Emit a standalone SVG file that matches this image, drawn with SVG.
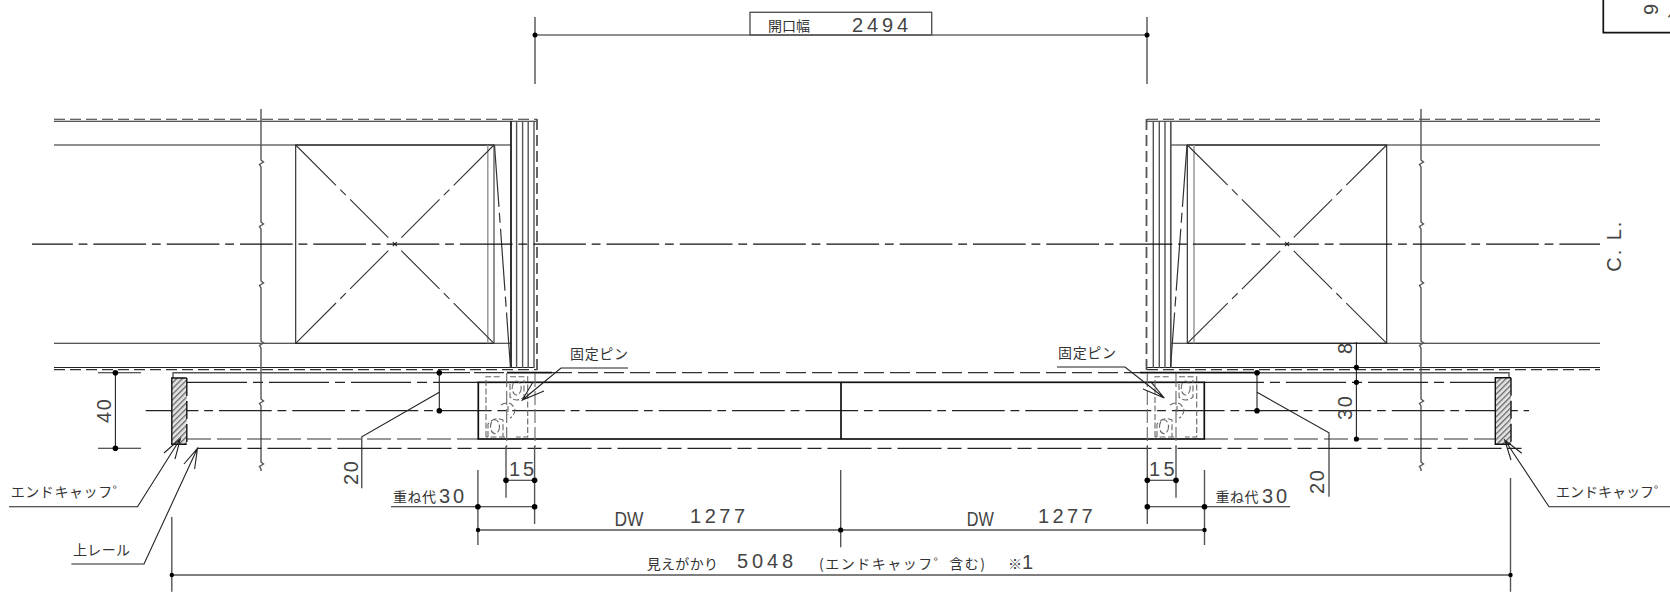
<svg xmlns="http://www.w3.org/2000/svg" width="1670" height="596" viewBox="0 0 1670 596">
<style>
svg{background:#fff}
line,path,rect,ellipse{fill:none;stroke:#222;stroke-width:1.1}
.h{stroke-width:1.7;stroke:#111}
.g{stroke:#555;stroke-width:1.4}
.lg{stroke:#999;stroke-width:1.5}
.d{stroke-dasharray:11 5;stroke:#333}
.dg{stroke-dasharray:11 5;stroke:#555;stroke-width:1.8}
.cl{stroke-dasharray:52.7 5.8 8.8 6;stroke:#111;stroke-width:1.2}
.rl{stroke-dasharray:60 6 10 6;stroke:#222;stroke-width:1.2}
.rd{stroke-dasharray:24 6;stroke:#333;stroke-width:1.2}
.rb{stroke-dasharray:44 6 14 6;stroke:#222;stroke-width:1.2}
.x{stroke-dasharray:57 6 8 6 54 9;stroke:#333}
.sd{stroke-dasharray:6 2.5;stroke:#666;stroke-width:1.1}
.dot{fill:#000;stroke:none}
text{font-family:"Noto Sans CJK JP","Liberation Sans",sans-serif;font-size:14px;fill:#333}
.n{font-family:"Liberation Sans",sans-serif;font-size:20px;fill:#444}
.hatch{fill:url(#ht);stroke:none}
.he{stroke:#111;stroke-width:1.4}
</style>
<defs>
<pattern id="ht" width="4" height="4" patternUnits="userSpaceOnUse" patternTransform="rotate(-45)">
<rect x="0" y="0" width="4" height="4" style="fill:#e4e4e4;stroke:none"/>
<rect x="0" y="0" width="4" height="1.300" style="fill:#666;stroke:none"/>
</pattern>
<g id="pin">
<path class="sd" d="M486 437V376.700H500M510 376.700H527.700V437H516M505 437H486"/>
<ellipse class="sd" cx="516.700" cy="388" rx="4.500" ry="7"/>
<path class="sd" d="M510 384V397Q516 403 524 397V380"/>
<ellipse class="sd" cx="495" cy="426.700" rx="4.500" ry="7"/>
<path class="sd" d="M488 437V424Q495 416 503 420V437"/>
<path class="sd" d="M501 405Q504 403 507 403M509 403Q513 404 515 410Q514 416 510 418"/>
<line class="sd" x1="508" y1="406" x2="508" y2="415"/>
</g>
</defs>
<g id="frame-left">
<path d="M54 121.300H537M54 145H511M54 343.300H511M54 367.500H534"/>
<line class="d" x1="54" y1="119.300" x2="537" y2="119.300"/>
<line class="d" x1="54" y1="369.600" x2="537" y2="369.600"/>
<path class="h" d="M511 121.300V368"/>
<path class="g" d="M516.600 121.300V368M522.600 121.300V368M528.200 121.300V368M534 121.300V368"/>
<line class="dg" x1="537" y1="119" x2="537" y2="370"/>
<rect x="295.700" y="145" width="198.300" height="198.300"/>
<line class="lg" x1="487.800" y1="145" x2="487.800" y2="343.300"/>
<line class="lg" x1="494" y1="145" x2="494" y2="343.300"/>
<path class="x" d="M295.700 145L394.800 244.200"/>
<path class="x" d="M494 145L394.800 244.200"/>
<path class="x" d="M295.700 343.300L394.800 244.200"/>
<path class="x" d="M494 343.300L394.800 244.200"/>
<path d="M392.800 242.200l4 4M396.800 242.200l-4 4"/>
<path class="rd" d="M494.500 145L510.500 368" style="stroke-dasharray:62 6 10 6"/>
<path class="g" d="M261 109V160l2.500 2-4 2.500 1.500 2.500V222l2.500 2-4 2.500 1.500 2.500V281l2.500 2-4 2.500 1.500 2.500V341l2.500 2-4 2.500 1.500 2.500V399l2.500 2-4 2.500 1.500 2.500V462l2.500 2-4 2.500 1.500 2.500V471"/>
</g>
<g id="frame-right">
<path d="M1147 121.300H1600M1171 145H1600M1171 343.300H1600M1147 367.500H1600"/>
<line class="d" x1="1147" y1="119.300" x2="1600" y2="119.300"/>
<line class="d" x1="1147" y1="369.600" x2="1600" y2="369.600"/>
<line class="dg" x1="1146.500" y1="119" x2="1146.500" y2="370"/>
<path class="g" d="M1153.300 121.300V368M1159.300 121.300V368M1165 121.300V368"/>
<path class="g" style="stroke-width:1.700" d="M1170.800 121.300V368"/>
<rect x="1187.300" y="145" width="199.400" height="198.300"/>
<line class="lg" x1="1194" y1="145" x2="1194" y2="343.300"/>
<path class="x" d="M1386.700 145L1287 244.200"/>
<path class="x" d="M1187.300 145L1287 244.200"/>
<path class="x" d="M1386.700 343.300L1287 244.200"/>
<path class="x" d="M1187.300 343.300L1287 244.200"/>
<path d="M1285 242.200l4 4M1289 242.200l-4 4"/>
<path class="rd" d="M1187 145L1170.500 368" style="stroke-dasharray:62 6 10 6"/>
<path class="g" d="M1421 109V160l2.500 2-4 2.500 1.500 2.500V222l2.500 2-4 2.500 1.500 2.500V281l2.500 2-4 2.500 1.500 2.500V341l2.500 2-4 2.500 1.500 2.500V399l2.500 2-4 2.500 1.500 2.500V462l2.500 2-4 2.500 1.500 2.500V471"/>
</g>
<line id="centerline" class="cl" x1="32" y1="244.200" x2="1600" y2="244.200" stroke-dashoffset="11.900"/>
<g id="rail">
<path class="g" d="M173 380V372.700H440"/>
<line class="rd" x1="440" y1="372.700" x2="507" y2="372.700" style="stroke-dasharray:30 4"/>
<line class="h" x1="507" y1="372.700" x2="552" y2="372.700"/>
<line class="rd" x1="552" y1="372.700" x2="1140" y2="372.700" style="stroke-dasharray:20 6"/>
<line class="h" x1="1140" y1="372.700" x2="1260" y2="372.700"/>
<path class="g" d="M1260 372.700H1509V380"/>
<line class="rl" x1="187" y1="382.300" x2="478" y2="382.300"/>
<line class="rl" x1="1204" y1="382.300" x2="1495" y2="382.300"/>
<line class="rb" x1="145.700" y1="410.700" x2="1529" y2="410.700" style="stroke-dasharray:52.700 5.800 8.800 6"/>
<line class="rd" x1="187" y1="439" x2="478" y2="439"/>
<line class="rd" x1="1204" y1="439" x2="1495" y2="439"/>
<line class="rb" x1="197.500" y1="448.300" x2="1523.600" y2="448.300"/>
<rect class="hatch" x="171.800" y="378" width="15" height="66.300"/>
<path class="he" d="M186.800 378H171.800V444.300H186.800"/>
<line class="he" x1="186.800" y1="378" x2="186.800" y2="444.300" style="stroke-dasharray:18 5"/>
<rect class="hatch" x="1495.300" y="377.700" width="15.700" height="66.600"/>
<path class="he" d="M1511 377.700H1495.300V444.300H1511"/>
<line class="he" x1="1511" y1="377.700" x2="1511" y2="444.300" style="stroke-dasharray:18 5"/>
</g>
<g id="door">
<rect class="h" x="478.300" y="382.300" width="726" height="56.700"/>
<line class="h" x1="841" y1="382.300" x2="841" y2="439"/>
<use href="#pin"/>
<use href="#pin" x="669"/>
<path class="sd" d="M535 373V447M1147.300 373V447M506.700 373V447M1176 373V447" style="stroke-dasharray:14 4"/>
</g>
<g id="connectors">
<path d="M535 17V84M1147 17V84M535 35H1147"/>
<path d="M98 372.700H141M98 448.300H141M115.400 372.700V448.300"/>
<path d="M439.300 372.700V410.700"/>
<path d="M439.300 392.300L361.800 436.700V488.300"/>
<path d="M1257 372.700V410.700"/>
<path d="M1257 392.300L1329 432.700V496.700"/>
<path d="M1356.400 342V439"/>
<path class="g" d="M506 446V497.700M534.600 446V524M1147.300 446V524M1176 446V497.700"/>
<path d="M506 480.300H534.600M1147.300 480.300H1176"/>
<path d="M391 506.700H534.600M1147.300 506.700H1290"/>
<path class="g" d="M477.900 470V545M1204.500 470V545M840.700 470V547.300M171.800 517V591.700M1510.500 478V591.700"/>
<path class="g" d="M478 530H1204.500M171.800 575H1510.500"/>
<path d="M9 506.700H137.500L180.400 438.700M164 453L180.400 438.700L175 459"/>
<path d="M71.400 564H144L197.500 448.300M184 464L197.500 448.300L194.600 469"/>
<path d="M1670 506.700H1549L1504.700 440M1521.800 453.300L1504.700 440L1511 460"/>
<path d="M628 368H561L522.300 400M544 391L522.300 400L533 382"/>
<path d="M1057 367H1125L1164.300 398M1143 389L1164.300 398L1150.700 381.700"/>
<circle class="dot" cx="535" cy="35" r="2.500"/><circle class="dot" cx="1147" cy="35" r="2.500"/>
<circle class="dot" cx="115.400" cy="372.700" r="2.800"/><circle class="dot" cx="115.400" cy="448.300" r="2.800"/>
<circle class="dot" cx="439.300" cy="372.700" r="2.800"/><circle class="dot" cx="439.300" cy="410.700" r="2.800"/>
<circle class="dot" cx="1257" cy="372.700" r="2.800"/><circle class="dot" cx="1257" cy="410.700" r="2.800"/>
<circle class="dot" cx="1356.400" cy="367.300" r="2.600"/><circle class="dot" cx="1356.400" cy="382.300" r="2.600"/><circle class="dot" cx="1356.400" cy="439" r="2.600"/>
<circle class="dot" cx="506" cy="480.300" r="2.800"/><circle class="dot" cx="534.600" cy="480.300" r="2.800"/>
<circle class="dot" cx="1147.300" cy="480.300" r="2.800"/><circle class="dot" cx="1176" cy="480.300" r="2.800"/>
<circle class="dot" cx="477.900" cy="506.700" r="2.800"/><circle class="dot" cx="534.600" cy="506.700" r="2.800"/>
<circle class="dot" cx="1147.300" cy="506.700" r="2.800"/><circle class="dot" cx="1204.500" cy="506.700" r="2.800"/>
<circle class="dot" cx="478" cy="530" r="2.200"/><circle class="dot" cx="840.700" cy="530" r="2.600"/><circle class="dot" cx="1204.500" cy="530" r="2.200"/>
<circle class="dot" cx="171.800" cy="575" r="2.200"/><circle class="dot" cx="1510.500" cy="575" r="2.200"/>
</g>
<g id="opening-label">
<rect class="g" x="750" y="12.300" width="181.700" height="22.700"/>
<text x="768" y="31" textLength="42">開口幅</text>
<text class="n" x="852" y="31.500" textLength="56">2494</text>
</g>
<g id="corner-label">
<path class="h" d="M1603.300 0V32.700H1670"/>
<text class="n" transform="translate(1658 15) rotate(-90)">9</text>
<text transform="translate(1678 20) rotate(-90)">ン</text>
</g>
<g id="labels">
<text class="n" transform="translate(1620.700 271.700) rotate(-90)" textLength="50">C. L.</text>
<text class="n" transform="translate(110.700 423) rotate(-90)" textLength="24">40</text>
<text class="n" transform="translate(357.800 485) rotate(-90)" textLength="24">20</text>
<text class="n" transform="translate(1324 494) rotate(-90)" textLength="24">20</text>
<text class="n" transform="translate(1351.600 420) rotate(-90)" textLength="24">30</text>
<text class="n" transform="translate(1351.600 354) rotate(-90)">8</text>
<text class="n" x="509" y="476" textLength="25">15</text>
<text class="n" x="1149" y="476" textLength="25.500">15</text>
<text x="393" y="502" textLength="43">重ね代</text>
<text class="n" x="439" y="502.500" textLength="25">30</text>
<text x="1215.600" y="502" textLength="43">重ね代</text>
<text class="n" x="1262" y="502.500" textLength="25">30</text>
<text class="n" x="614.500" y="525.700" textLength="29" lengthAdjust="spacingAndGlyphs">DW</text>
<text class="n" x="690" y="522.700" textLength="55">1277</text>
<text class="n" x="966.700" y="525.700" textLength="27" lengthAdjust="spacingAndGlyphs">DW</text>
<text class="n" x="1038" y="522.700" textLength="54.700">1277</text>
<text x="646.700" y="569" textLength="71.300">見えがかり</text>
<text class="n" x="737" y="568" textLength="56">5048</text>
<text x="819" y="569" textLength="166">(エンドキャッフ゜含む)</text>
<text x="1008" y="569">※</text>
<text class="n" x="1022" y="569" font-size="18">1</text>
<text x="10.700" y="497.300" textLength="116">エンドキャッフ゜</text>
<text x="1556" y="497.300" textLength="112">エンドキャッフ゜</text>
<text x="73" y="555" textLength="57">上レール</text>
<text x="570" y="359" textLength="58">固定ピン</text>
<text x="1058" y="358" textLength="58">固定ピン</text>
</g>
</svg>
